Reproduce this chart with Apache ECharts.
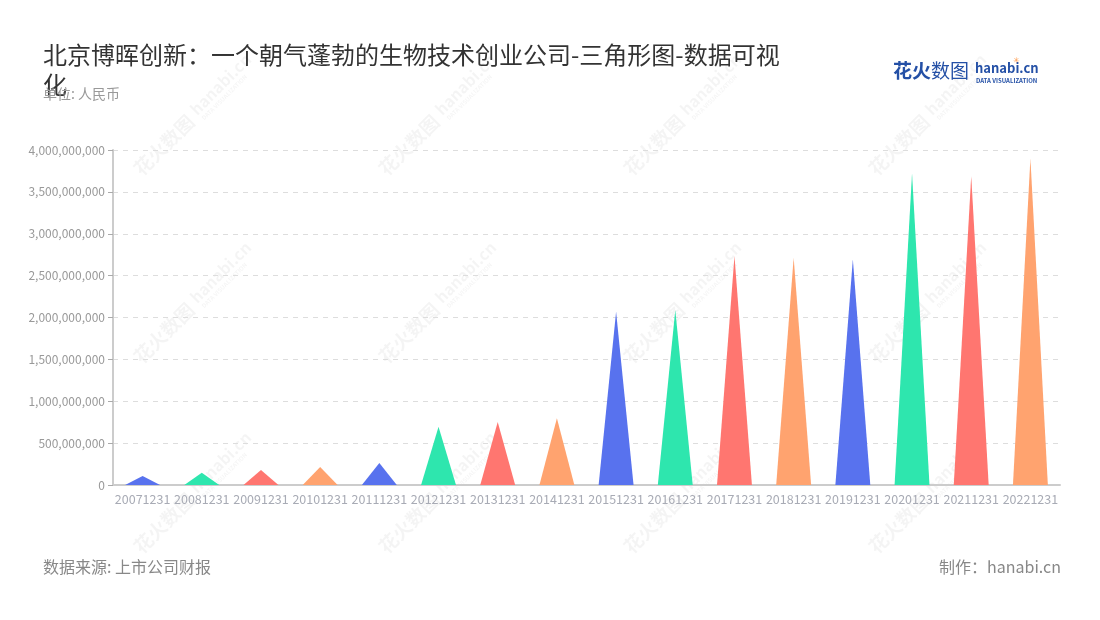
<!DOCTYPE html>
<html>
<head>
<meta charset="utf-8">
<script src="https://cdn.jsdelivr.net/npm/echarts@6/dist/echarts.min.js"></script>
<style>
html,body{margin:0;padding:0;background:#fff;}
#main{width:1100px;height:620px;}
</style>
</head>
<body>
<div id="main"></div>
<script>
var titleText = '北京博晖创新：一个朝气蓬勃的生物技术创业公司-三角形图-数据可视化';
var unitText = '单位: 人民币';
var sourceText = '数据来源: 上市公司财报';
var makerText = '制作：hanabi.cn';
var categories = ['20071231','20081231','20091231','20101231','20111231','20121231','20131231','20141231','20151231','20161231','20171231','20181231','20191231','20201231','20211231','20221231'];
var values = [107000000,147000000,179000000,215000000,263000000,696000000,752000000,796000000,2069000000,2090000000,2734000000,2714000000,2695000000,3720000000,3690000000,3900000000];
var palette = ['#5872ee','#2ee6ae','#ff7670','#ffa36f'];
var yTicks = { min: 0, max: 4000000000, interval: 500000000 };

var FONT = '"Noto Sans CJK SC", "Noto Sans", sans-serif';

var dataItems = values.map(function (v, i) {
  return { value: v, itemStyle: { color: palette[i % palette.length] } };
});

function fmt(n) {
  return String(n).replace(/\B(?=(\d{3})+(?!\d))/g, ',');
}

var WM = 'rgba(0,0,0,0.045)';
var watermarks = [];
var wmXs = [137, 382, 627, 872];
var wmYs = [172, 360, 550];
wmYs.forEach(function (wy) {
  wmXs.forEach(function (wx) {
    watermarks.push({
      type: 'group',
      x: wx, y: wy,
      rotation: Math.PI / 4,
      z: 100,
      silent: true,
      children: [
        { type: 'text', x: 0, y: 0, style: { text: '花火数图', font: 'bold 19px ' + FONT, fill: WM, verticalAlign: 'middle' } },
        { type: 'text', x: 82, y: -3, style: { text: 'hanabi.cn', font: 'bold 16px ' + FONT, fill: WM, verticalAlign: 'middle' } },
        { type: 'text', x: 84, y: 9, style: { text: 'DATA VISUALIZATION', font: 'bold 6px ' + FONT, fill: WM, verticalAlign: 'middle' } }
      ]
    });
  });
});

var LOGO = '#2450a6';
var logo = [
  { type: 'text', left: 893, top: 61, z: 10, style: { text: '花火', font: 'bold 19px ' + FONT, fill: LOGO } },
  { type: 'text', left: 931, top: 61, z: 10, style: { text: '数图', font: 'normal 19px ' + FONT, fill: LOGO } },
  { type: 'text', left: 975, top: 62, z: 10, style: { text: 'hanabi.cn', font: 'bold 13px ' + FONT, fill: LOGO } },
  { type: 'text', left: 976, top: 78, z: 10, style: { text: 'DATA VISUALIZATION', font: 'bold 6px ' + FONT, fill: LOGO } },
  { type: 'text', left: 1013, top: 56, z: 10, style: { text: '✳', font: '8px ' + FONT, fill: '#ff9a4a' } }
];

var chart = echarts.init(document.getElementById('main'), null, { renderer: 'canvas' });
chart.setOption({
  backgroundColor: '#ffffff',
  animation: false,
  textStyle: { fontFamily: FONT },
  title: [
    {
      text: titleText,
      left: 38, top: 35,
      textStyle: { fontSize: 24, fontWeight: 'normal', color: '#333333', width: 750, overflow: 'break', lineHeight: 30, fontFamily: FONT }
    },
    {
      text: unitText,
      left: 38, top: 82,
      textStyle: { fontSize: 14, fontWeight: 'normal', color: '#999999', fontFamily: FONT }
    },
    {
      text: sourceText,
      left: 38, top: 554,
      textStyle: { fontSize: 16, fontWeight: 'normal', color: '#888888', fontFamily: FONT }
    },
    {
      text: makerText,
      right: 34, top: 554,
      textStyle: { fontSize: 16, fontWeight: 'normal', color: '#888888', fontFamily: FONT }
    }
  ],
  graphic: logo.concat(watermarks),
  grid: { left: 113, right: 40, top: 150, bottom: 135, containLabel: false },
  xAxis: {
    type: 'category',
    data: categories,
    axisLine: { lineStyle: { color: '#cccccc', width: 2 } },
    axisTick: { alignWithLabel: true, lineStyle: { color: '#aaaaaa' } },
    axisLabel: { color: '#a8abb5', fontSize: 12.5, margin: 8, interval: 0 },
    splitLine: { show: false }
  },
  yAxis: {
    type: 'value',
    min: yTicks.min, max: yTicks.max, interval: yTicks.interval,
    axisLine: { show: true, lineStyle: { color: '#cccccc', width: 2 } },
    axisTick: { show: true, lineStyle: { color: '#aaaaaa' } },
    axisLabel: { color: '#999999', fontSize: 12, margin: 8, formatter: function (v) { return fmt(v); } },
    splitLine: { show: true, lineStyle: { color: '#dddddd', type: [5, 5] } }
  },
  series: [{
    type: 'pictorialBar',
    symbol: 'triangle',
    symbolSize: ['59%', '100%'],
    barCategoryGap: '0%',
    data: dataItems
  }]
});
</script>
</body>
</html>
